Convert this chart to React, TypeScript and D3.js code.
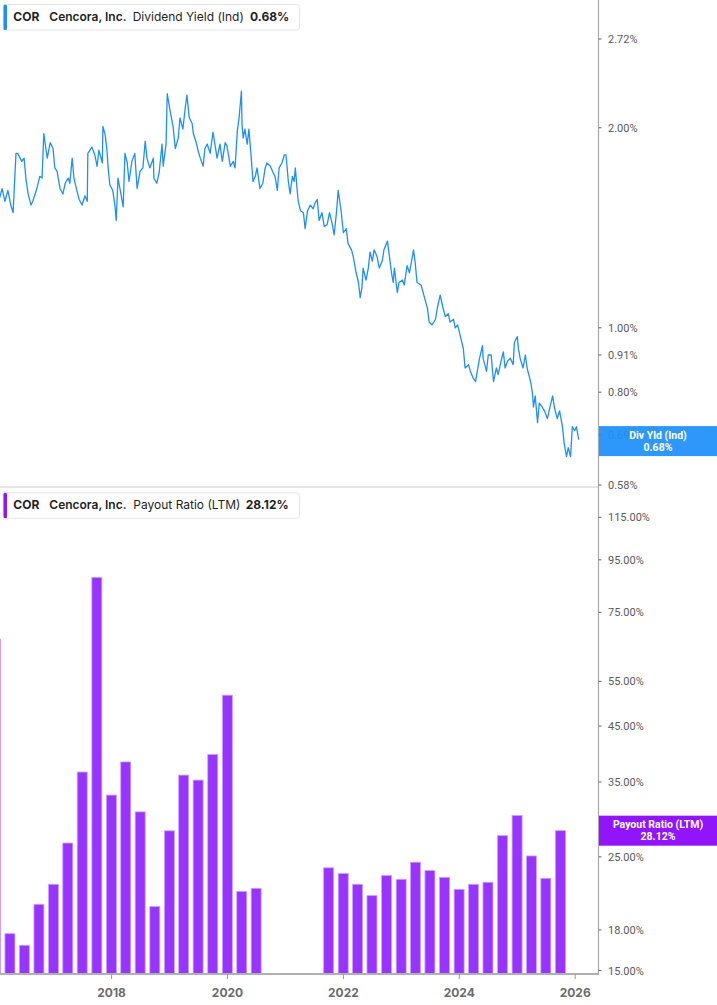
import React from "react";
import * as d3 from "d3";

// ---- Data ----
const yieldSeries: [number, number][] = [
  [2016.07,1.57],[2016.11,1.62],[2016.16,1.55],[2016.21,1.61],[2016.26,1.53],[2016.30,1.49],[2016.35,1.83],[2016.38,1.83],
  [2016.45,1.78],[2016.49,1.80],[2016.52,1.68],[2016.56,1.59],[2016.61,1.53],[2016.64,1.55],[2016.68,1.59],[2016.71,1.62],
  [2016.76,1.69],[2016.80,1.68],[2016.83,1.96],[2016.87,1.85],[2016.89,1.80],[2016.94,1.90],[2016.99,1.86],[2017.02,1.74],
  [2017.06,1.72],[2017.11,1.62],[2017.16,1.59],[2017.20,1.65],[2017.25,1.68],[2017.28,1.65],[2017.32,1.80],[2017.35,1.68],
  [2017.40,1.61],[2017.44,1.56],[2017.49,1.53],[2017.54,1.58],[2017.58,1.55],[2017.59,1.83],[2017.66,1.87],[2017.71,1.82],
  [2017.75,1.75],[2017.78,1.85],[2017.84,1.77],[2017.85,2.01],[2017.89,1.95],[2017.92,1.85],[2017.94,1.74],[2017.97,1.64],
  [2018.02,1.61],[2018.06,1.52],[2018.08,1.45],[2018.11,1.68],[2018.15,1.61],[2018.20,1.52],[2018.23,1.83],[2018.27,1.77],
  [2018.30,1.66],[2018.35,1.78],[2018.40,1.83],[2018.44,1.62],[2018.49,1.72],[2018.54,1.74],[2018.58,1.91],[2018.61,1.80],
  [2018.66,1.74],[2018.72,1.80],[2018.73,1.68],[2018.78,1.65],[2018.82,1.71],[2018.87,1.89],[2018.89,1.75],[2018.94,1.89],
  [2018.96,2.25],[2019.01,2.12],[2019.06,2.01],[2019.10,1.86],[2019.15,1.93],[2019.18,2.07],[2019.23,1.99],[2019.27,2.14],
  [2019.30,2.24],[2019.34,2.07],[2019.39,2.03],[2019.41,1.96],[2019.46,1.90],[2019.49,1.85],[2019.53,1.80],[2019.58,1.75],
  [2019.61,1.86],[2019.65,1.89],[2019.70,1.83],[2019.75,1.97],[2019.79,1.87],[2019.82,1.80],[2019.87,1.89],[2019.91,1.78],
  [2019.96,1.90],[2019.99,1.88],[2020.05,1.75],[2020.10,1.78],[2020.13,1.74],[2020.17,1.98],[2020.20,2.07],[2020.24,2.27],
  [2020.25,2.03],[2020.27,1.93],[2020.30,1.99],[2020.34,1.89],[2020.37,1.99],[2020.41,1.80],[2020.44,1.66],[2020.48,1.69],
  [2020.51,1.74],[2020.56,1.62],[2020.61,1.65],[2020.65,1.74],[2020.68,1.77],[2020.74,1.75],[2020.79,1.71],[2020.82,1.69],
  [2020.86,1.61],[2020.89,1.74],[2020.94,1.77],[2020.98,1.82],[2021.01,1.82],[2021.05,1.66],[2021.08,1.59],[2021.12,1.69],
  [2021.15,1.66],[2021.17,1.74],[2021.20,1.62],[2021.22,1.55],[2021.26,1.50],[2021.31,1.49],[2021.34,1.41],[2021.38,1.50],
  [2021.43,1.53],[2021.48,1.51],[2021.51,1.54],[2021.55,1.56],[2021.58,1.45],[2021.63,1.49],[2021.67,1.42],[2021.72,1.43],
  [2021.76,1.49],[2021.81,1.43],[2021.84,1.38],[2021.88,1.49],[2021.91,1.61],[2021.96,1.50],[2022.00,1.39],[2022.05,1.41],
  [2022.08,1.34],[2022.14,1.31],[2022.17,1.28],[2022.22,1.21],[2022.26,1.17],[2022.29,1.11],[2022.32,1.15],[2022.34,1.23],
  [2022.39,1.18],[2022.43,1.23],[2022.46,1.30],[2022.50,1.26],[2022.53,1.31],[2022.58,1.28],[2022.62,1.23],[2022.67,1.26],
  [2022.70,1.31],[2022.76,1.35],[2022.79,1.29],[2022.83,1.21],[2022.86,1.17],[2022.88,1.23],[2022.93,1.13],[2022.96,1.17],
  [2023.02,1.18],[2023.05,1.16],[2023.10,1.24],[2023.14,1.21],[2023.21,1.31],[2023.24,1.25],[2023.27,1.17],[2023.34,1.16],
  [2023.40,1.11],[2023.45,1.07],[2023.48,1.02],[2023.53,1.01],[2023.59,1.03],[2023.62,1.07],[2023.67,1.12],[2023.72,1.07],
  [2023.76,1.04],[2023.81,1.05],[2023.84,1.02],[2023.90,1.03],[2023.93,1.00],[2023.97,1.01],[2024.02,0.97],[2024.07,0.93],
  [2024.10,0.87],[2024.16,0.88],[2024.19,0.86],[2024.24,0.84],[2024.28,0.83],[2024.31,0.86],[2024.35,0.90],[2024.40,0.94],
  [2024.41,0.90],[2024.47,0.86],[2024.50,0.91],[2024.55,0.91],[2024.59,0.83],[2024.64,0.87],[2024.67,0.85],[2024.72,0.89],
  [2024.76,0.92],[2024.79,0.87],[2024.83,0.89],[2024.88,0.90],[2024.93,0.88],[2024.95,0.95],[2025.00,0.97],[2025.02,0.93],
  [2025.05,0.90],[2025.10,0.87],[2025.14,0.91],[2025.17,0.87],[2025.23,0.83],[2025.26,0.80],[2025.28,0.76],[2025.31,0.79],
  [2025.35,0.72],[2025.38,0.77],[2025.43,0.76],[2025.47,0.75],[2025.52,0.73],[2025.55,0.75],[2025.61,0.79],[2025.64,0.76],
  [2025.69,0.73],[2025.73,0.75],[2025.78,0.71],[2025.81,0.67],[2025.85,0.64],[2025.88,0.66],[2025.92,0.64],[2025.95,0.71],
  [2025.99,0.70],[2026.02,0.71],[2026.06,0.68],[2026.07,0.68],
];

const payoutSeries: [string, number][] = [
  ["2015-12-31",66.5],["2016-03-31",17.7],["2016-06-30",16.8],["2016-09-30",20.2],["2016-12-31",22.1],
  ["2017-03-31",26.6],["2017-06-30",36.6],["2017-09-30",87.8],["2017-12-31",33.0],["2018-03-31",38.3],
  ["2018-06-30",30.6],["2018-09-30",20.0],["2018-12-31",28.1],["2019-03-31",36.1],["2019-06-30",35.3],
  ["2019-09-30",39.6],["2019-12-31",51.7],["2020-03-31",21.4],["2020-06-30",21.7],
  ["2021-09-30",23.8],["2021-12-31",23.2],["2022-03-31",22.1],["2022-06-30",21.0],["2022-09-30",23.0],
  ["2022-12-31",22.6],["2023-03-31",24.4],["2023-06-30",23.5],["2023-09-30",22.8],["2023-12-31",21.6],
  ["2024-03-31",22.1],["2024-06-30",22.3],["2024-09-30",27.5],["2024-12-31",30.1],["2025-03-31",25.1],
  ["2025-06-30",22.7],["2025-09-30",28.12],
];

const yieldTicks = [2.72, 2.0, 1.0, 0.91, 0.8, 0.69, 0.58];
const payoutTicks = [115, 95, 75, 55, 45, 35, 25, 18, 15];
const yearTicks = [2018, 2020, 2022, 2024, 2026];

const lastYield = 0.68;
const lastPayout = 28.12;

// ---- Layout ----
const W = 717;
const H = 1005;
const axisX = 598.5;
const topPanelBottom = 487;
const bottomPanelTop = 489;
const baseY = 974;

const toDecYear = (iso: string) => {
  const d = new Date(iso + "T00:00:00Z");
  const y = d.getUTCFullYear();
  const s = Date.UTC(y, 0, 1);
  const e = Date.UTC(y + 1, 0, 1);
  return y + (d.getTime() - s) / (e - s);
};

const x = d3.scaleLinear().domain([2018, 2026]).range([111.6, 575.2]);
const yTop = d3.scaleLog().domain([0.58, 2.72]).range([485, 39]);
const yBot = d3.scaleLog().domain([15, 115]).range([970.5, 517.3]);

const quarterW = x(2018.25) - x(2018);
const barW = quarterW * 0.69;

const FONT = "Inter, Roboto, 'Noto Sans', sans-serif";
const AXFONT = "Roboto, 'Noto Sans', sans-serif";

function Legend({ y, color, parts }: { y: number; color: string; parts: { t: string; x: number; w: number }[] }) {
  return (
    <g>
      <rect x={3.5} y={y} width={296} height={25.5} rx={3} fill="#fff" stroke="#e6e6e6" />
      <rect x={3.5} y={y} width={3.5} height={25.5} rx={1.5} fill={color} />
      {parts.map((p, i) => (
        <text key={i} x={p.x} y={y + 16.5} fontFamily={FONT} fontSize={12} fontWeight={p.w} fill="#1e1e1e">
          {p.t}
        </text>
      ))}
    </g>
  );
}

function ValueLabel({ cy, color, opacity, l1, l2 }: { cy: number; color: string; opacity: number; l1: string; l2: string }) {
  return (
    <g>
      <rect x={599} y={cy - 15} width={W - 599} height={30} fill={color} fillOpacity={opacity} />
      <text x={658} y={cy - 2.5} textAnchor="middle" fontFamily={AXFONT} fontSize={10.5} fontWeight={700} fill="#fff">
        {l1}
      </text>
      <text x={658} y={cy + 9.5} textAnchor="middle" fontFamily={AXFONT} fontSize={10.5} fontWeight={700} fill="#fff">
        {l2}
      </text>
    </g>
  );
}

export default function App() {
  const line = d3
    .line<[number, number]>()
    .x((d) => x(d[0]))
    .y((d) => yTop(d[1]))
    .curve(d3.curveLinear);

  return (
    <>
      <style>{"body{margin:0;background:#fff}"}</style>
      <svg width={W} height={H} style={{ display: "block" }}>
        <defs>
          <clipPath id="clipTop">
            <rect x={0} y={0} width={axisX} height={topPanelBottom} />
          </clipPath>
          <clipPath id="clipBot">
            <rect x={0} y={bottomPanelTop} width={axisX} height={baseY - bottomPanelTop} />
          </clipPath>
        </defs>
        <rect x={0} y={0} width={W} height={H} fill="#fff" />

        {/* Top panel line */}
        <g clipPath="url(#clipTop)">
          <path d={line(yieldSeries) || ""} fill="none" stroke="#1e8ffa" strokeWidth={1.3} strokeLinejoin="round" />
        </g>

        {/* separator */}
        <line x1={0} x2={axisX} y1={topPanelBottom} y2={topPanelBottom} stroke="#dcdcdc" strokeWidth={1.5} />

        {/* Bottom bars */}
        <g clipPath="url(#clipBot)">
          {payoutSeries.map(([d, v], i) => {
            const cx = x(toDecYear(d));
            const yv = yBot(v);
            return (
              <rect
                key={i}
                x={cx - barW / 2}
                y={yv}
                width={barW}
                height={baseY - yv}
                fill="#9933ff"
                stroke="#caa2ff"
                strokeWidth={0.8}
              />
            );
          })}
        </g>

        {/* baseline + x axis */}
        <line x1={0} x2={axisX} y1={baseY} y2={baseY} stroke="#b0b0b0" strokeWidth={2} />
        {yearTicks.map((t) => (
          <g key={t}>
            <line x1={x(t)} x2={x(t)} y1={baseY} y2={baseY + 5} stroke="#999" strokeWidth={1} />
            <text x={x(t)} y={996.5} textAnchor="middle" fontFamily={FONT} fontSize={12} fontWeight={700} fill="#6b6b6b">
              {t}
            </text>
          </g>
        ))}

        {/* right axis */}
        <line x1={axisX} x2={axisX} y1={0} y2={baseY + 1} stroke="#a8a8a8" strokeWidth={1.2} />
        {yieldTicks.map((t) => (
          <g key={"yt" + t}>
            <line x1={axisX} x2={axisX + 3} y1={yTop(t)} y2={yTop(t)} stroke="#666" strokeWidth={1} />
            <text x={608} y={yTop(t) + 4} fontFamily={AXFONT} fontSize={11} fill="#5a5a5a">
              {t.toFixed(2)}%
            </text>
          </g>
        ))}
        {payoutTicks.map((t) => (
          <g key={"pt" + t}>
            <line x1={axisX} x2={axisX + 3} y1={yBot(t)} y2={yBot(t)} stroke="#666" strokeWidth={1} />
            <text x={608} y={yBot(t) + 4} fontFamily={AXFONT} fontSize={11} fill="#5a5a5a">
              {t.toFixed(2)}%
            </text>
          </g>
        ))}

        {/* value labels */}
        <ValueLabel cy={yTop(lastYield) + 2} color="#1e8ffa" opacity={0.93} l1="Div Yld (Ind)" l2={`${lastYield.toFixed(2)}%`} />
        <ValueLabel cy={yBot(lastPayout)} color="#9114fb" opacity={1} l1="Payout Ratio (LTM)" l2={`${lastPayout.toFixed(2)}%`} />

        {/* legends */}
        <Legend
          y={4.5}
          color="#1e8ffa"
          parts={[
            { t: "COR", x: 13.3, w: 700 },
            { t: "Cencora, Inc.", x: 49.3, w: 600 },
            { t: "Dividend Yield (Ind)", x: 132.7, w: 400 },
            { t: `${lastYield.toFixed(2)}%`, x: 250, w: 700 },
          ]}
        />
        <Legend
          y={492.8}
          color="#9114fb"
          parts={[
            { t: "COR", x: 13.3, w: 700 },
            { t: "Cencora, Inc.", x: 49.3, w: 600 },
            { t: "Payout Ratio (LTM)", x: 133.3, w: 400 },
            { t: `${lastPayout.toFixed(2)}%`, x: 245.7, w: 700 },
          ]}
        />
      </svg>
    </>
  );
}
